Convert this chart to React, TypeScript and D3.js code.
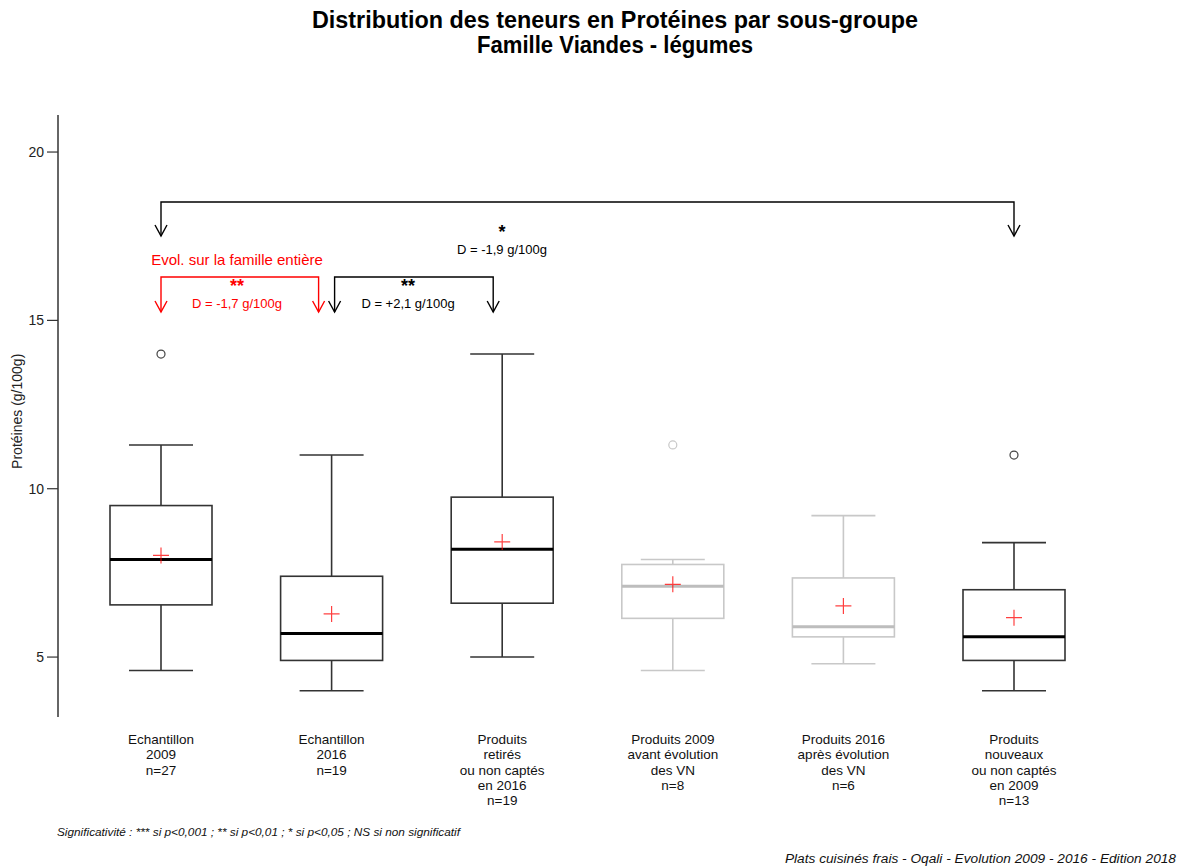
import React from 'react';
import * as d3 from 'd3';

const groups = [
    ['Echantillon', '2009', 'n=27'],
    ['Echantillon', '2016', 'n=19'],
    ['Produits', 'retirés', 'ou non captés', 'en 2016', 'n=19'],
    ['Produits 2009', 'avant évolution', 'des VN', 'n=8'],
    ['Produits 2016', 'après évolution', 'des VN', 'n=6'],
    ['Produits', 'nouveaux', 'ou non captés', 'en 2009', 'n=13'],
];
const lowWhisker = [4.6, 4.0, 5.0, 4.6, 4.8, 4.0];
const q1 = [6.55, 4.9, 6.6, 6.15, 5.6, 4.9];
const medians = [7.9, 5.7, 8.2, 7.1, 5.9, 5.6];
const q3 = [9.5, 7.4, 9.75, 7.75, 7.35, 7.0];
const highWhisker = [11.3, 11.0, 14.0, 7.9, 9.2, 8.4];
const means = [8.02, 6.28, 8.42, 7.16, 6.52, 6.17];
const outliers: number[][] = [[14.0], [], [], [11.3], [], [11.0]];
const fadedGroups = [3, 4];
const yTicks = [5, 10, 15, 20];

const W = 1183;
const H = 868;

const FONT = 'Arial, "Liberation Sans", Helvetica, sans-serif';

const App: React.FC = () => {
    const ids = groups.map((_, i) => String(i));
    const x = d3.scalePoint<string>().domain(ids).range([161, 1014]);
    const y = d3.scaleLinear().domain([3.22, 21.1]).range([717, 115]);

    const boxW = 102;
    const capW = 64;
    const red = '#ff0000';

    const arrow = (cx: number, tip: number, color: string) => (
        <path
            d={`M${cx - 6},${tip - 11} L${cx},${tip} L${cx + 6},${tip - 11}`}
            fill="none"
            stroke={color}
            strokeWidth={1.4}
        />
    );

    // bracket with an open arrow at each end
    const bracket = (x1: number, x2: number, top: number, tip: number, color: string) => (
        <g>
            <path
                d={`M${x1},${tip} L${x1},${top} L${x2},${top} L${x2},${tip}`}
                fill="none"
                stroke={color}
                strokeWidth={1.4}
            />
            {arrow(x1, tip, color)}
            {arrow(x2, tip, color)}
        </g>
    );

    const xc = (i: number) => x(String(i)) as number;

    return (
        <svg width={W} height={H} style={{ position: 'absolute', left: 0, top: 0, background: '#fff' }}
            fontFamily={FONT}>
            {/* titles */}
            <text x={615} y={28} textAnchor="middle" fontSize={23} fontWeight="bold"
                textLength={606} lengthAdjust="spacingAndGlyphs">
                Distribution des teneurs en Protéines par sous-groupe
            </text>
            <text x={615} y={53} textAnchor="middle" fontSize={23} fontWeight="bold"
                textLength={276} lengthAdjust="spacingAndGlyphs">
                Famille Viandes - légumes
            </text>

            {/* y axis */}
            <line x1={58} x2={58} y1={y(21.1)} y2={y(3.22)} stroke="#333" strokeWidth={1.5} />
            {yTicks.map(t => (
                <g key={t}>
                    <line x1={47} x2={58} y1={y(t)} y2={y(t)} stroke="#333" strokeWidth={1.2} />
                    <text x={44} y={y(t)} dy="0.35em" textAnchor="end" fontSize={14} fill="#222">{t}</text>
                </g>
            ))}
            <text transform={`translate(22,${y(12.3)}) rotate(-90)`} textAnchor="middle" fontSize={14} fill="#222">
                Protéines (g/100g)
            </text>

            {/* boxes */}
            {ids.map((id, i) => {
                const cx = xc(i);
                const faded = fadedGroups.includes(i);
                const col = faded ? '#c8c8c8' : '#333';
                const medCol = faded ? '#bdbdbd' : '#000';
                return (
                    <g key={id}>
                        <line x1={cx} x2={cx} y1={y(highWhisker[i])} y2={y(q3[i])} stroke={col} strokeWidth={1.6} />
                        <line x1={cx} x2={cx} y1={y(q1[i])} y2={y(lowWhisker[i])} stroke={col} strokeWidth={1.6} />
                        <line x1={cx - capW / 2} x2={cx + capW / 2} y1={y(highWhisker[i])} y2={y(highWhisker[i])} stroke={col} strokeWidth={1.6} />
                        <line x1={cx - capW / 2} x2={cx + capW / 2} y1={y(lowWhisker[i])} y2={y(lowWhisker[i])} stroke={col} strokeWidth={1.6} />
                        <rect x={cx - boxW / 2} y={y(q3[i])} width={boxW} height={y(q1[i]) - y(q3[i])}
                            fill="none" stroke={col} strokeWidth={1.6} />
                        <line x1={cx - boxW / 2} x2={cx + boxW / 2} y1={y(medians[i])} y2={y(medians[i])}
                            stroke={medCol} strokeWidth={3} />
                        {outliers[i].map((o, k) => (
                            <circle key={k} cx={cx} cy={y(o)} r={4} fill="none" stroke={faded ? '#c8c8c8' : '#444'} strokeWidth={1.2} />
                        ))}
                        <path d={`M${cx - 8},${y(means[i])} L${cx + 8},${y(means[i])} M${cx},${y(means[i]) - 8} L${cx},${y(means[i]) + 8}`}
                            stroke={red} strokeOpacity={0.75} strokeWidth={1.2} fill="none" />
                        {groups[i].map((line, k) => (
                            <text key={k} x={cx} y={744 + k * 15.3} textAnchor="middle" fontSize={13.5} fill="#111">{line}</text>
                        ))}
                    </g>
                );
            })}

            {/* significance annotations */}
            {bracket(xc(0), xc(5), 202, 236, '#000')}
            <text x={502} y={238} textAnchor="middle" fontSize={18} fontWeight="bold">*</text>
            <text x={502} y={254} textAnchor="middle" fontSize={13}>D = -1,9 g/100g</text>

            <text x={237} y={265} textAnchor="middle" fontSize={15} fill={red}>Evol. sur la famille entière</text>

            {bracket(xc(0), xc(1) - 13, 277, 312, red)}
            <text x={237} y={292} textAnchor="middle" fontSize={18} fontWeight="bold" fill={red}>**</text>
            <text x={237} y={308} textAnchor="middle" fontSize={13} fill={red}>D = -1,7 g/100g</text>

            {bracket(xc(1) + 3, xc(2) - 9, 277, 312, '#000')}
            <text x={408} y={292} textAnchor="middle" fontSize={18} fontWeight="bold">**</text>
            <text x={408} y={308} textAnchor="middle" fontSize={13}>D = +2,1 g/100g</text>

            {/* footnotes */}
            <text x={57} y={836} fontSize={11.8} fontStyle="italic" fill="#111">
                Significativité : *** si p&lt;0,001 ; ** si p&lt;0,01 ; * si p&lt;0,05 ; NS si non significatif
            </text>
            <text x={1176} y={863} textAnchor="end" fontSize={13.7} fontStyle="italic" fill="#111">
                Plats cuisinés frais - Oqali - Evolution 2009 - 2016 - Edition 2018
            </text>
        </svg>
    );
};

export default App;
